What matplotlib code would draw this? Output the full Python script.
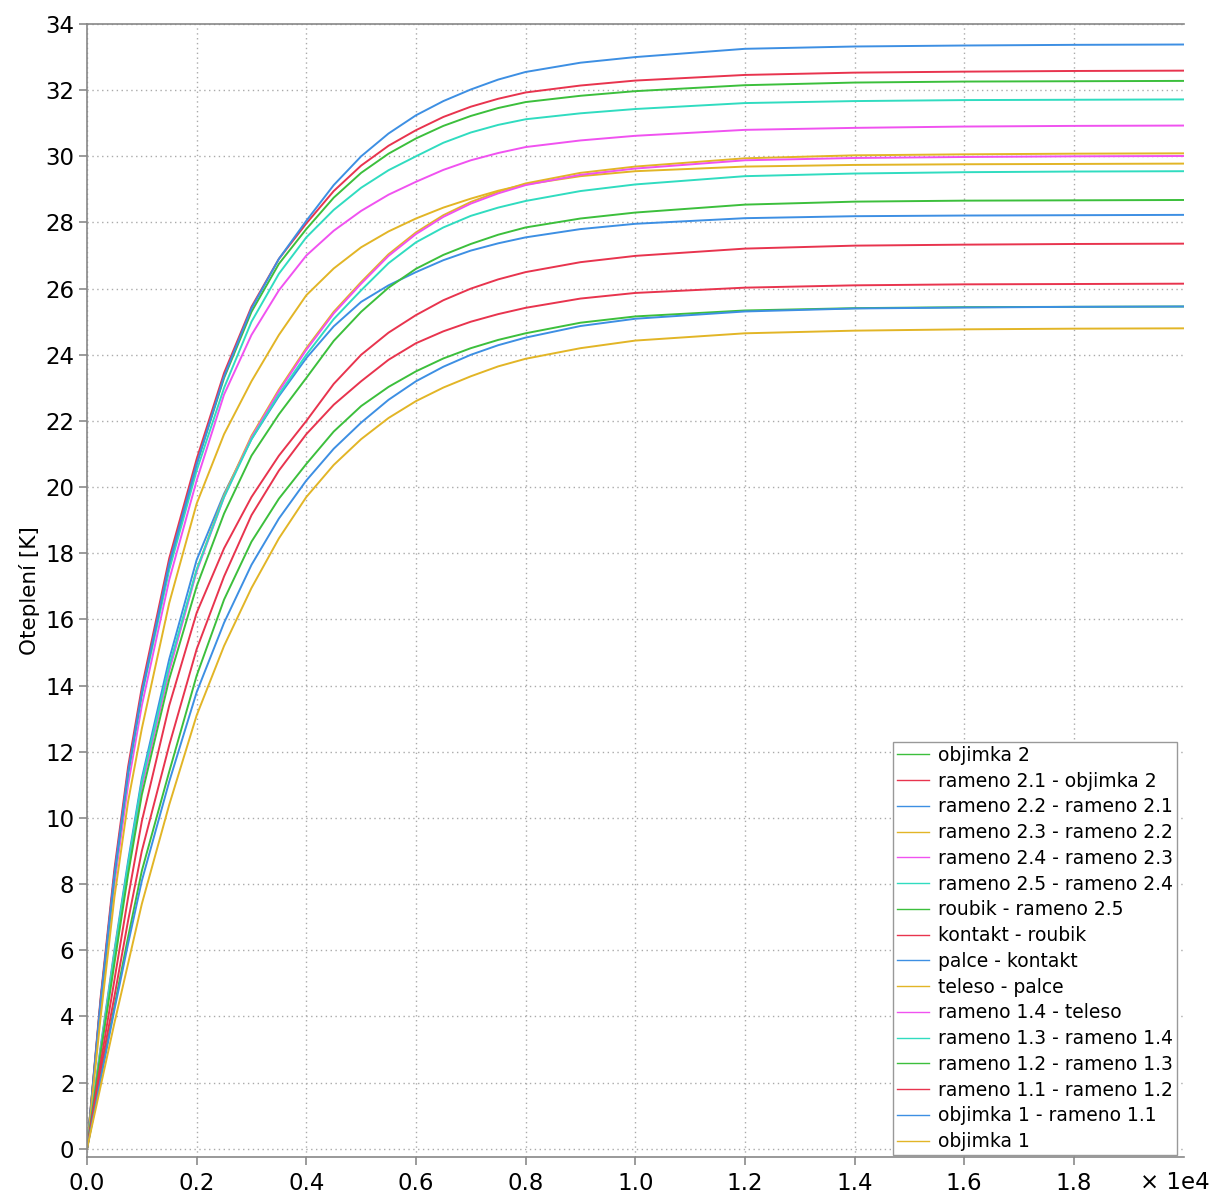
import matplotlib
matplotlib.use("Agg")
import matplotlib.pyplot as plt

# time in seconds
time_s = [0, 250, 500, 750, 1000, 1500, 2000, 2500, 3000, 3500, 4000, 4500, 5000,
          5500, 6000, 6500, 7000, 7500, 8000, 9000, 10000, 12000, 14000, 16000,
          18000, 20000]

labels = ["objimka 2", "rameno 2.1 - objimka 2", "rameno 2.2 - rameno 2.1",
          "rameno 2.3 - rameno 2.2", "rameno 2.4 - rameno 2.3",
          "rameno 2.5 - rameno 2.4", "roubik - rameno 2.5", "kontakt - roubik",
          "palce - kontakt", "teleso - palce", "rameno 1.4 - teleso",
          "rameno 1.3 - rameno 1.4", "rameno 1.2 - rameno 1.3",
          "rameno 1.1 - rameno 1.2", "objimka 1 - rameno 1.1", "objimka 1"]

objimka_2 = [0, 2.2, 4.3, 6.4, 8.4, 11.4, 14.3, 16.6, 18.35, 19.65, 20.7, 21.68, 22.45,
             23.03, 23.5, 23.89, 24.2, 24.45, 24.65, 24.97, 25.16, 25.34, 25.41, 25.44,
             25.45, 25.46]
rameno_21 = [0, 2.4, 4.6, 6.9, 9.0, 12.2, 15.1, 17.3, 19.15, 20.5, 21.6, 22.49, 23.2,
             23.85, 24.35, 24.71, 25.0, 25.23, 25.42, 25.7, 25.87, 26.03, 26.1, 26.13,
             26.14, 26.15]
rameno_22 = [0, 3.1, 6.0, 8.7, 11.2, 14.8, 17.8, 19.8, 21.45, 22.75, 23.9, 24.86, 25.6,
             26.1, 26.5, 26.86, 27.15, 27.37, 27.55, 27.8, 27.96, 28.13, 28.19, 28.21,
             28.22, 28.23]
rameno_23 = [0, 3.0, 5.9, 8.5, 11.0, 14.5, 17.5, 19.75, 21.55, 22.95, 24.2, 25.3, 26.2,
             27.04, 27.7, 28.22, 28.62, 28.93, 29.18, 29.5, 29.69, 29.94, 30.03, 30.06,
             30.08, 30.09]
rameno_24 = [0, 4.3, 8.0, 11.0, 13.4, 17.2, 20.2, 22.8, 24.6, 25.95, 27.0, 27.75, 28.35,
             28.84, 29.23, 29.59, 29.88, 30.1, 30.28, 30.48, 30.62, 30.8, 30.86, 30.9,
             30.92, 30.93]
rameno_25 = [0, 4.4, 8.2, 11.3, 13.7, 17.5, 20.5, 23.0, 25.0, 26.45, 27.55, 28.38, 29.05,
             29.58, 30.0, 30.41, 30.72, 30.95, 31.12, 31.3, 31.43, 31.61, 31.67, 31.7,
             31.71, 31.72]
roubik = [0, 4.5, 8.3, 11.4, 13.8, 17.7, 20.7, 23.3, 25.3, 26.75, 27.8, 28.75, 29.5,
          30.08, 30.54, 30.92, 31.22, 31.46, 31.64, 31.83, 31.97, 32.15, 32.23, 32.26,
          32.27, 32.28]
kontakt = [0, 4.6, 8.45, 11.55, 13.95, 17.85, 20.85, 23.45, 25.45, 26.9, 27.97, 28.95,
           29.72, 30.32, 30.79, 31.19, 31.5, 31.74, 31.93, 32.14, 32.29, 32.46, 32.53,
           32.56, 32.58, 32.59]
palce = [0, 4.5, 8.3, 11.4, 13.8, 17.7, 20.7, 23.35, 25.4, 26.9, 28.05, 29.13, 30.0,
         30.69, 31.24, 31.67, 32.02, 32.32, 32.55, 32.83, 33.0, 33.25, 33.32, 33.35,
         33.37, 33.38]
teleso = [0, 4.0, 7.6, 10.5, 12.7, 16.5, 19.5, 21.6, 23.2, 24.6, 25.8, 26.61, 27.25,
          27.73, 28.12, 28.45, 28.72, 28.96, 29.15, 29.4, 29.55, 29.69, 29.74, 29.76,
          29.77, 29.78]
rameno_14 = [0, 3.0, 5.85, 8.45, 10.95, 14.45, 17.45, 19.7, 21.5, 22.9, 24.15, 25.25,
             26.15, 26.99, 27.65, 28.17, 28.57, 28.88, 29.13, 29.44, 29.63, 29.88, 29.95,
             29.98, 30.0, 30.01]
rameno_13 = [0, 3.0, 5.9, 8.6, 11.1, 14.6, 17.5, 19.7, 21.45, 22.8, 24.0, 25.08, 25.95,
             26.77, 27.4, 27.85, 28.2, 28.45, 28.65, 28.95, 29.15, 29.4, 29.48, 29.52,
             29.54, 29.55]
rameno_12 = [0, 2.9, 5.6, 8.3, 10.7, 14.2, 17.0, 19.2, 20.95, 22.2, 23.3, 24.42, 25.3,
             26.03, 26.6, 27.02, 27.35, 27.63, 27.85, 28.12, 28.3, 28.54, 28.63, 28.66,
             28.67, 28.68]
rameno_11 = [0, 2.6, 5.1, 7.6, 9.9, 13.4, 16.2, 18.15, 19.7, 20.95, 22.0, 23.12, 24.0,
             24.67, 25.2, 25.65, 26.0, 26.28, 26.5, 26.8, 26.99, 27.21, 27.3, 27.33,
             27.35, 27.36]
objimka_1_r11 = [0, 2.1, 4.2, 6.2, 8.1, 11.1, 13.8, 15.9, 17.65, 19.05, 20.2, 21.16,
                 21.95, 22.64, 23.2, 23.64, 24.0, 24.29, 24.52, 24.87, 25.09, 25.31,
                 25.4, 25.43, 25.45, 25.46]
objimka_1 = [0, 1.9, 3.8, 5.6, 7.4, 10.4, 13.1, 15.2, 16.95, 18.45, 19.7, 20.67, 21.45,
             22.09, 22.6, 23.01, 23.35, 23.65, 23.88, 24.2, 24.43, 24.65, 24.73, 24.77,
             24.79, 24.8]

series = [objimka_2, rameno_21, rameno_22, rameno_23, rameno_24, rameno_25,
          roubik, kontakt, palce, teleso, rameno_14, rameno_13, rameno_12,
          rameno_11, objimka_1_r11, objimka_1]

palette = ["#3cbf3c", "#e8344e", "#3d8fe3", "#e2b526", "#f052f0", "#30dcc0"]

x_ticks = [0, 2000, 4000, 6000, 8000, 10000, 12000, 14000, 16000, 18000]
x_tick_labels = ["0.0", "0.2", "0.4", "0.6", "0.8", "1.0", "1.2", "1.4", "1.6", "1.8"]
x_offset_label = "\u00d7 1e4"
y_ticks = list(range(0, 35, 2))
y_label = "Oteplení [K]"

W, H = 1216, 1198
fig = plt.figure(figsize=(W / 100, H / 100), dpi=100)
left, right, top, bottom = 87, 1183.5, 24, 1157
ax = fig.add_axes([left / W, 1 - bottom / H, (right - left) / W, (bottom - top) / H])

for i, (ys, lab) in enumerate(zip(series, labels)):
    ax.plot(time_s, ys, color=palette[i % 6], lw=1.4, label=lab)

ax.set_xlim(0, 20000)
ax.set_ylim(-0.25, 34)
ax.set_xticks(x_ticks)
ax.set_xticklabels(x_tick_labels)
ax.set_yticks(y_ticks)
ax.tick_params(axis="both", labelsize=16.5, colors="#808080", labelcolor="black",
               length=6, width=1.1)
ax.tick_params(axis="x", pad=5)
ax.tick_params(axis="y", pad=3)
ax.text(20480, -0.012, x_offset_label, transform=ax.get_xaxis_transform(),
        ha="right", va="top", fontsize=16.5, color="black")

ax.grid(True, color="#aaaaaa", linestyle=(0, (1, 2.5)), linewidth=1.0)
for s in ["left", "bottom", "top"]:
    ax.spines[s].set_color("#888888")
    ax.spines[s].set_linewidth(1.2)
ax.spines["right"].set_visible(False)

ax.set_ylabel(y_label, fontsize=15.5)

leg = ax.legend(loc="lower right", bbox_to_anchor=(0.9941, 0.0018),
                borderaxespad=0, fontsize=13.5, frameon=True, fancybox=False,
                edgecolor="#999999", framealpha=1, labelspacing=0.36,
                handlelength=1.7, handletextpad=0.5, borderpad=0.2)
leg.get_frame().set_linewidth(1.0)
for line in leg.get_lines():
    line.set_linewidth(1.0)

fig.savefig("out.png", dpi=100)
